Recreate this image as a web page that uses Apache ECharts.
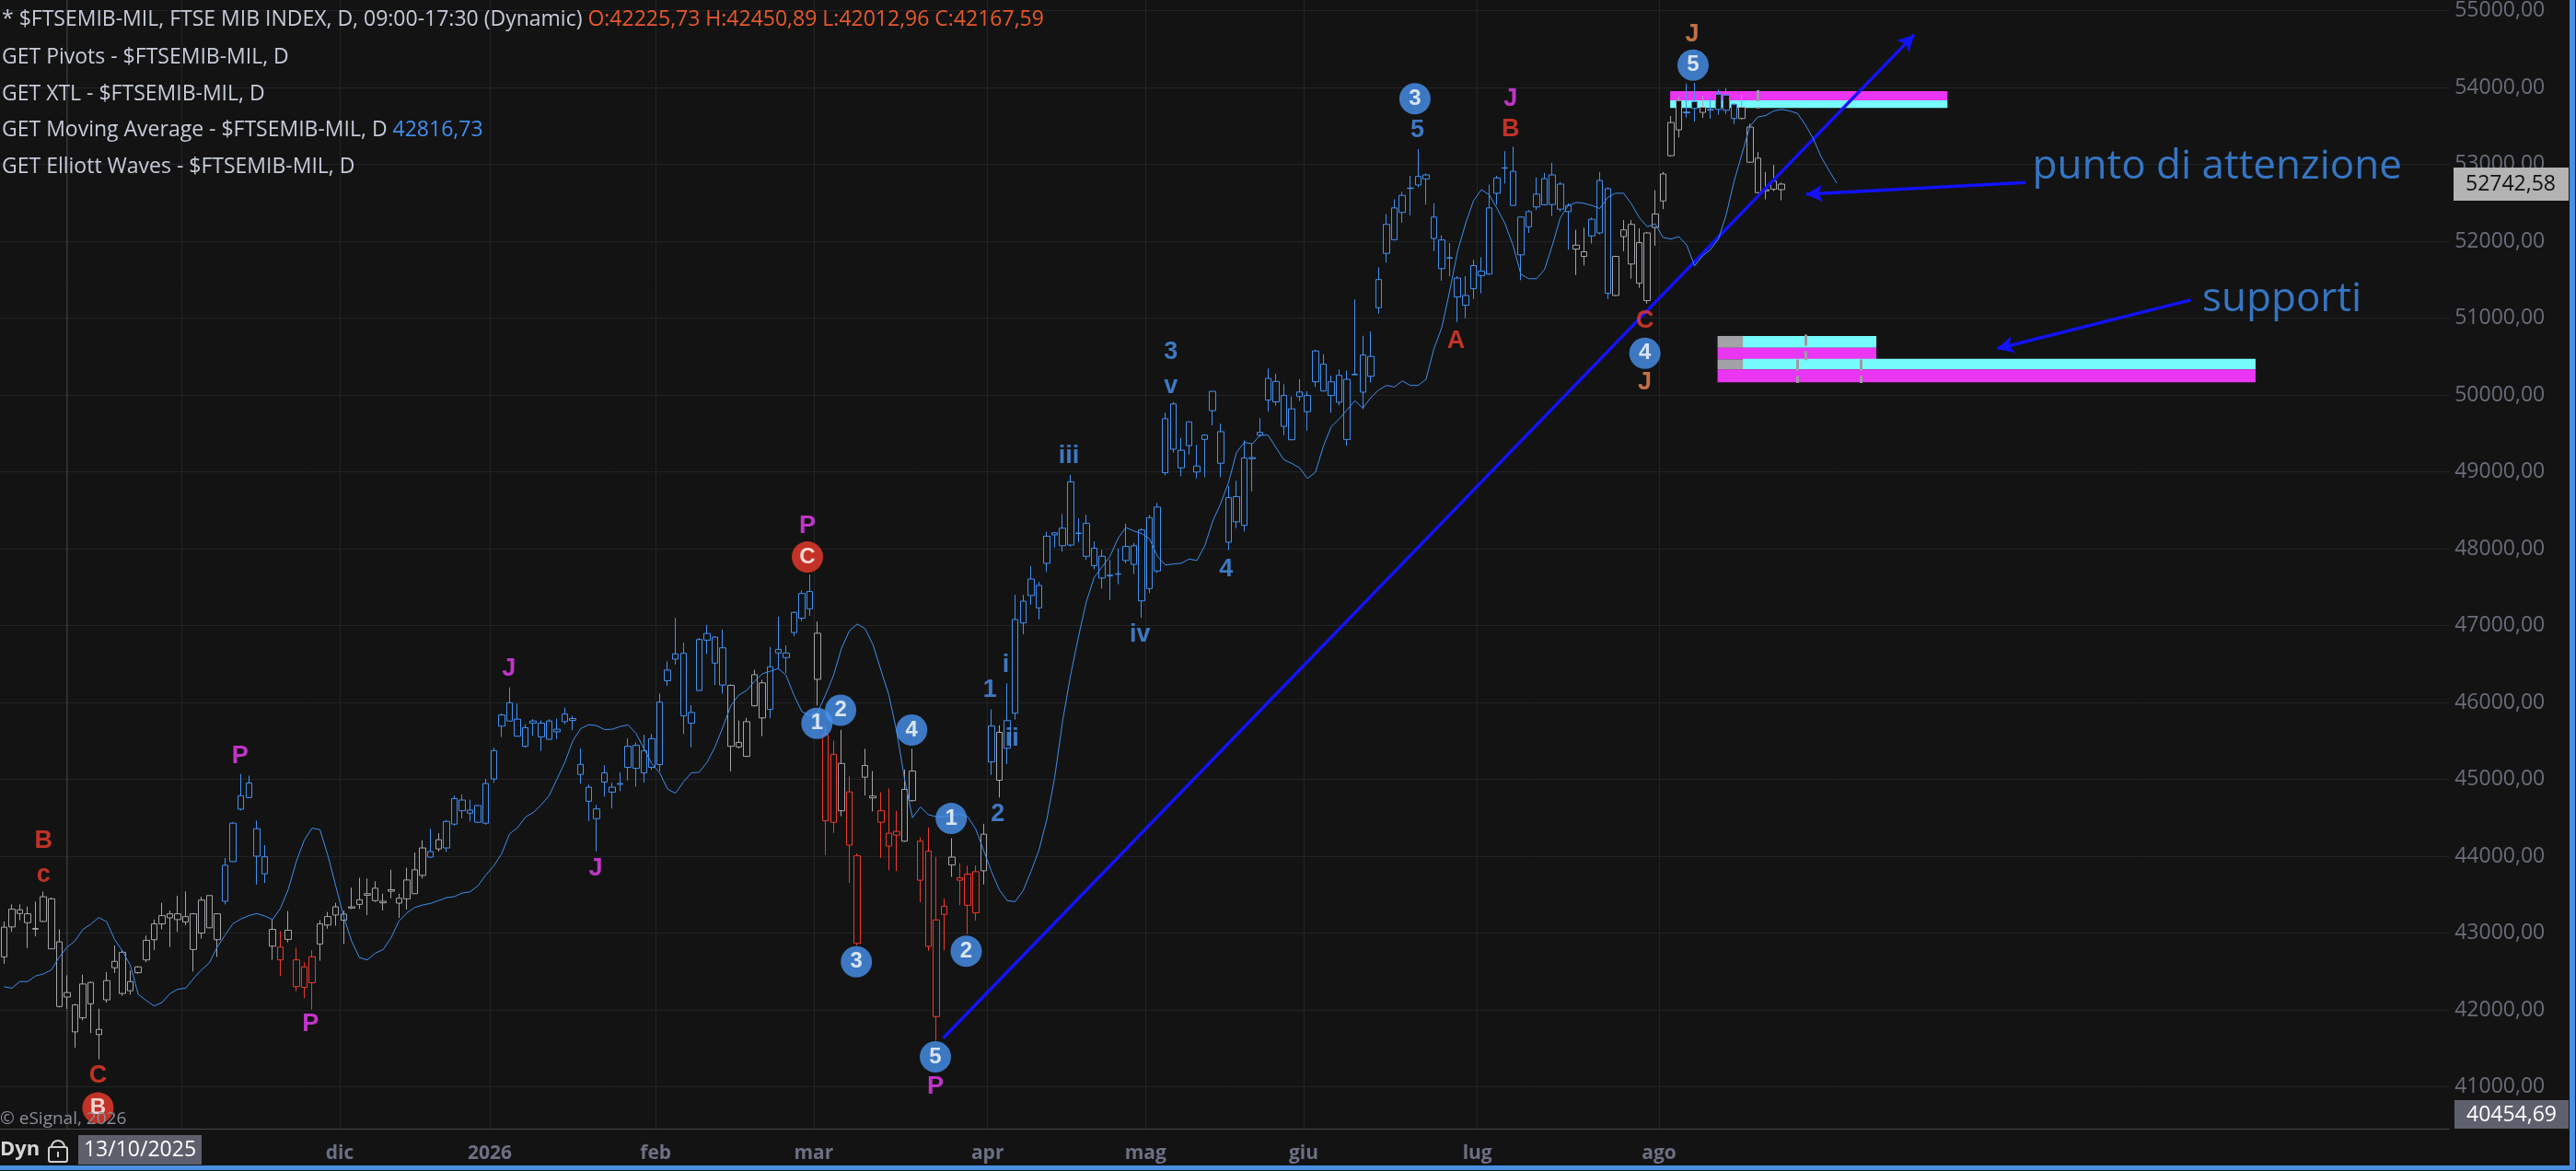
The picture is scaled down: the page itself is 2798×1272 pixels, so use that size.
<!DOCTYPE html>
<html><head><meta charset="utf-8">
<script src="https://cdn.jsdelivr.net/npm/echarts@6/dist/echarts.min.js"></script>
<style>html,body{margin:0;padding:0;background:#131313;overflow:hidden}#c{width:2798px;height:1272px}</style>
</head><body><div id="c"></div>
<script>
// ---------- DATA ----------
// daily candles, [open, high, low, close], from 1 Oct 2025
const candles = [
[42690,43150,42600,43076],[43310,43373,43016,43080],[43302,43373,43167,43254],[43250,43345,42806,43135],[43060,43409,42956,43050],
[43151,43540,43143,43472],[43445,43460,42794,42794],[42885,43048,42032,42044],[42225.73,42450.89,42012.96,42167.59],[41714,42080,41508,42064],
[42337,42457,41865,41897],[42080,42369,41699,42357],[41679,42016,41357,41746],[42131,42492,42095,42381],[42548,42837,42480,42631],
[42750,42778,42183,42214],[42250,42512,42199,42369],[42560,42570,42470,42484],[42651,42968,42619,42905],[42913,43175,42778,43119],
[43119,43393,43048,43226],[43250,43294,42818,43198],[43250,43484,43016,43175],[43143,43540,43103,43214],[42786,43260,42500,43250],
[43000,43472,42929,43429],[43488,43490,43064,43068],[43250,43255,42691,42913],[43413,43976,43373,43881],[43929,44444,43925,44429],
[44611,45071,44595,44786],[44952,45048,44760,44762],[44357,44464,43631,44000],[43992,44143,43651,43770],[43048,43175,42651,42829],
[42817,43024,42441,42651],[43036,43286,42877,42917],[42302,42810,42242,42651],[42560,42619,42151,42294],[42353,42778,42004,42691],
[42857,43167,42639,43119],[43103,43274,43056,43214],[43234,43393,43095,43341],[43167,43294,42857,43246],[43341,43591,43313,43325],
[43433,43718,43313,43373],[43512,43710,43234,43492],[43583,43671,43405,43421],[43413,43512,43294,43393],[43564,43822,43452,43544],
[43389,43512,43195,43452],[43445,43849,43306,43690],[43822,44048,43510,43512],[43750,44206,43710,44107],[44060,44357,43976,43988],
[44214,44298,44060,44095],[44107,44472,44056,44452],[44417,44790,44397,44750],[44730,44802,44492,44591],[44560,44734,44449,44599],
[44659,44665,44430,44441],[44429,45004,44409,44945],[45004,45409,44953,45373],[45691,45857,45548,45837],[45996,46195,45755,45758],
[45782,45984,45556,45560],[45429,45718,45413,45671],[45758,45782,45568,45730],[45552,45766,45369,45730],[45758,45782,45516,45520],
[45619,45790,45520,45651],[45750,45933,45718,45849],[45766,45825,45639,45790],[45063,45401,44945,45194],[44897,44933,44457,44714],
[44615,44667,44060,44488],[44964,45183,44774,45083],[44897,44956,44619,44833],[44945,45091,44845,44935],[45155,45532,44984,45429],
[45441,45480,44905,45143],[45373,45580,44956,45083],[45155,45591,45123,45528],[45191,46115,45103,46004],[46282,46532,46214,46421],
[46563,47099,46492,46631],[46639,46778,45587,45825],[45730,45964,45413,45869],[46155,46837,46147,46818],[46897,47008,46631,46810],
[46849,46861,46226,46512],[46710,46948,46115,46226],[46222,46234,45103,45429],[45480,45766,45401,45421],[45298,45798,45290,45750],
[45956,46425,45948,46361],[46254,46294,45560,45798],[45909,46722,45798,46464],[46643,47115,46433,46690],[46583,46742,46381,46643],
[46909,47180,46861,47171],[47095,47456,47060,47417],[47444,47663,47127,47218],[46900,47050,45960,46300],[45583,45700,44016,44460],
[44440,45504,44302,45325],[45206,45643,44520,44591],[44837,45040,43651,44143],[42865,44036,42837,44004],[45028,45397,44790,45179],
[44782,45107,44583,44758],[44591,44829,43976,44441],[44131,44881,43818,44298],[44274,44591,43806,44322],[44195,45127,44187,44869],
[45107,45397,44710,44722],[44195,44246,43401,43687],[44064,44373,42766,42826],[41913,43988,41596,43171],[43242,43448,42774,43349],
[43885,44234,43730,43988],[43718,43909,43361,43687],[43766,43877,42984,43361],[43262,43877,43163,43798],[43810,44421,43631,44286],
[45226,45909,45056,45694],[44988,45702,44762,45611],[45764,46248,45198,45404],[45860,47399,45778,47079],[47034,47399,46888,47317],
[47390,47774,47271,47605],[47230,47568,47079,47522],[47810,48221,47696,48162],[48180,48215,48016,48206],[48267,48449,47961,48038],
[48047,48961,48025,48869],[48203,48394,48084,48198],[48331,48440,47856,47901],[48006,48093,47732,47778],[47618,47983,47481,47901],
[47645,47856,47331,47655],[47673,48002,47536,47668],[47847,48326,47810,48029],[48038,48075,47673,47796],[47321,48267,47102,48244],
[48404,48440,47422,47481],[47710,48595,47682,48541],[48988,49773,48952,49691],[49883,49910,49248,49294],[49052,49440,48942,49280],
[49340,49655,49225,49650],[49075,49349,48915,48997],[49422,49490,48929,49477],[49796,50050,49604,50047],[49522,49627,48929,49111],
[48084,48815,47983,48664],[48677,48883,48267,48349],[48303,49408,48221,49180],[49170,49372,48746,49185],[49477,49696,49454,49513],
[49933,50344,49782,50216],[50175,50276,49865,49910],[49993,50139,49477,49591],[49417,49979,49408,49819],[49979,50207,49920,50038],
[49993,50047,49536,49782],[50171,50588,50104,50572],[50401,50528,50044,50052],[49993,50251,49767,50171],[50255,50330,49866,49905],
[49421,50314,49342,50203],[50270,51243,50260,50262],[50520,50770,49814,50036],[50243,50826,50163,50501],[51135,51659,51056,51501],
[52219,52354,51723,51842],[52020,52544,52008,52433],[52374,52643,52239,52596],[52687,52850,52334,52692],[52731,53199,52703,52842],
[52862,52881,52477,52810],[52314,52493,51870,52036],[52016,52076,51485,51643],[51785,51977,51544,51780],[51520,51544,50949,51274],
[51294,51544,50997,51167],[51382,51758,51247,51683],[51552,51790,51322,51612],[51572,52735,51564,52433],[52623,52850,52473,52822],
[52950,53171,52750,52955],[52909,53231,52457,52465],[52314,52320,51493,51822],[52187,52405,52108,52385],[52445,52830,52405,52612],
[52473,52889,52465,52814],[52477,53020,52326,52862],[52743,52770,52385,52417],[52465,52493,51889,52385],[51949,52147,51560,51897],
[51802,52175,51683,51862],[52068,52306,51969,52286],[52108,52901,52088,52790],[52683,52703,51247,51322],[51294,51810,51286,51802],
[52147,52274,51870,52060],[52219,52274,51513,51703],[51981,52167,51394,51453],[51227,52120,51187,52108],[52354,52663,51941,52179],
[52524,52901,52417,52874],[53112,53628,53100,53544],[53830,53885,53350,53449],[53680,54052,53608,53670],[53814,54060,53556,53727],
[53743,53893,53604,53675],[53712,53862,53592,53707],[53913,53973,53643,53715],[53901,53993,53655,53703],[53782,53790,53524,53596],
[53743,53901,53584,53596],[53485,53528,53020,53028],[53080,53159,52623,52631],[52671,52901,52544,52655],[52782,52993,52651,52675],
[52671,52762,52532,52742.58]
];
// trend state of each candle (g = neutral, b = up trend, r = down trend), as runs
const trendRuns = [['g',28],['b',6],['g',1],['r',1],['g',1],['r',3],['g',14],['b',1],['g',1],['b',36],['g',5],['b',6],['g',1],['r',2],['g',1],['r',2],['g',2],['r',3],['g',2],['r',4],['g',1],['r',3],['g',1],['b',1],['g',1],['b',72],['g',2],['b',3],['g',9],['b',2],['g',1],['b',4],['g',6]];
// displaced moving average (extends 7 bars past the last candle)
const movingAverage = [
42302,42282,42369,42369,42441,42468,42520,42687,42816.73,42897,43048,43115,43202,43147,42917,42766,42579,42203,42123,42052,
42095,42210,42270,42282,42409,42520,42611,42818,42976,43123,43183,43226,43254,43222,43175,43322,43571,43929,44206,44365,
44345,44008,43611,43214,42897,42679,42651,42738,42786,42937,43155,43262,43333,43365,43385,43421,43460,43472,43520,43536,
43615,43754,43873,44032,44290,44369,44508,44568,44667,44786,45004,45222,45500,45659,45710,45699,45647,45651,45687,45707,
45599,45401,45203,45084,44873,44818,44964,45084,45091,45222,45421,45679,45956,46095,46155,46274,46373,46405,46441,46353,
46095,45880,45830,45870,46100,46350,46700,46930,47020,46960,46750,46420,46100,45620,45000,44500,44640,44540,44512,44512,
44532,44552,44512,44353,44076,43798,43560,43421,43409,43550,43800,44075,44477,45025,45755,46349,46851,47308,47627,47764,
47901,48130,48276,48230,48198,48130,47901,47787,47801,47810,47865,47847,48038,48358,48586,48860,49248,49385,49362,49477,
49477,49317,49157,49110,49050,48914,48993,49330,49588,49687,49806,49925,49826,49965,50064,50124,50104,50183,50124,50124,
50203,50600,50878,51354,51870,52227,52524,52671,52604,52425,52227,51949,51572,51512,51512,51631,51949,52306,52465,52505,
52493,52465,52425,52570,52624,52624,52485,52306,52187,52227,52048,52028,52060,51949,51679,51810,51890,52028,52346,52782,
53139,53497,53616,53635,53695,53715,53695,53663,53516,53338,53100,52921,52755
];
// Elliott wave / pivot labels: [text, bar position, price, kind]
// kind: r red text, m magenta text, b blue text, o orange text, R red disc, B blue disc
const waveLabels = [
['B',5,44193,'r'],['c',5,43757,'r'],['C',11.9,41142,'r'],['B',11.9,40726,'R'],
['P',29.9,45304,'m'],['P',38.8,41812,'m'],['J',63.9,46435,'m'],['J',74.9,43836,'m'],
['P',101.7,48296,'m'],['C',101.7,47891,'R'],
['1',102.9,45728,'B'],['2',105.9,45899,'B'],['3',107.9,42626,'B'],['4',114.9,45641,'B'],
['5',117.9,41389,'B'],['P',117.9,41000,'m'],['1',119.9,44490,'B'],['2',121.8,42764,'B'],
['1',124.8,46167,'b'],['2',125.8,44550,'b'],['i',126.8,46486,'b'],['ii',127.6,45528,'b'],
['iii',134.8,49204,'b'],['iv',143.8,46876,'b'],['3',147.7,50551,'b'],['v',147.7,50116,'b'],['4',154.7,47729,'b'],
['3',178.6,53854,'B'],['5',178.9,53437,'b'],['A',183.8,50700,'r'],['J',190.7,53854,'m'],['B',190.7,53457,'r'],
['C',207.7,50958,'r'],['4',207.7,50541,'B'],['J',207.7,50164,'o'],['5',213.8,54290,'B'],['J',213.7,54683,'o']
];
// pivot / XTL zones: [from bar, to bar, top price, bottom price, kind]
const zones = [
[210.9,246.0,53952,53833,'m'],[210.9,246.0,53833,53735,'c'],
[220.1,237.0,50767,50613,'c'],[216.9,220.1,50767,50613,'g'],[216.9,237.0,50613,50462,'m'],
[220.1,285.0,50470,50331,'c'],[216.9,220.1,50462,50331,'g'],[216.9,285.0,50331,50164,'m']
];
// short vertical markers inside the zones: [bar, top price, bottom price]
const zoneMarkers = [[222.0,53964,53726],[228.0,50783,50453],[227.0,50462,50156],[235.0,50462,50156]];
// drawn lines: trend line and the two pointer arrows, [[bar, price],[bar, price]] (arrow at 2nd end)
const trendLine = [[118.9,41634],[241.8,54687]];
const pointerArrows = [[[255.9,52763],[228.1,52612]],[[276.8,51235],[252.3,50601]]];
const notes = [['punto di attenzione',256.7,52961],['supporti',278.2,51235]];
const crosshairBar = 8;
const axisMinPrice = 40454.69;
const holidays = ['2025-12-24','2025-12-25','2025-12-26','2025-12-31','2026-01-01','2026-04-03','2026-04-06','2026-05-01','2026-08-14'];
const monthNames = ['gen','feb','mar','apr','mag','giu','lug','ago','set','ott','nov','dic'];
const firstDay = '2025-10-01';
const totalSlots = 310;

// ---------- BUILD ----------
const BG = '#131313';
const trendColor = {g:'#a6a6ab', b:'#4191f4', r:'#f0382c'};
const waveColor = {r:'#ef3b2d', m:'#ec3ef6', b:'#4892f0', o:'#ef8a52', R:'#ef3b2d', B:'#4892f0'};
const zoneColor = {m:'#ea36f2', c:'#76fbfd', g:'#a3a3a7'};
const fmt = v => v.toFixed(2).replace('.', ',');

const trend = [];
trendRuns.forEach(([k,n]) => { for (let j = 0; j < n; j++) trend.push(k); });

// trading-day categories
const dates = [];
{
  const d = new Date(firstDay + 'T12:00:00Z');
  while (dates.length < candles.length) {
    const iso = d.toISOString().slice(0,10);
    const wd = d.getUTCDay();
    if (wd !== 0 && wd !== 6 && holidays.indexOf(iso) < 0) dates.push(iso);
    d.setUTCDate(d.getUTCDate() + 1);
  }
}
const cats = dates.slice();
while (cats.length < totalSlots) cats.push('f' + cats.length);
const axisCats = cats.concat(['f' + totalSlots]);
const monthStart = {};
for (let i = 1; i < dates.length; i++) {
  if (dates[i].slice(5,7) !== dates[i-1].slice(5,7)) {
    const m = +dates[i].slice(5,7) - 1;
    monthStart[i] = m === 0 ? dates[i].slice(0,4) : monthNames[m];
  }
}

const candleData = candles.map((c, i) => {
  const col = trendColor[trend[i]];
  return {value:[c[0], c[3], c[2], c[1]],
    itemStyle:{color:BG, color0:col, borderColor:col, borderColor0:col, borderColorDoji:col}};
});

const waveData = waveLabels.map(([t, x, v, k]) => {
  const disc = (k === 'R' || k === 'B');
  return {value:[x, v], symbol:'circle', symbolSize: disc ? 34 : 1,
    itemStyle:{color: disc ? waveColor[k] : 'rgba(0,0,0,0)'},
    label:{show:true, position:'inside', formatter:t, color: disc ? '#ffffff' : waveColor[k],
      fontSize: disc ? 24 : 27, fontWeight:'bold', fontFamily:'Liberation Sans, Arial, sans-serif'}};
});

const noteData = notes.map(([t, x, v]) => ({value:[x, v], symbol:'circle', symbolSize:1,
  itemStyle:{color:'rgba(0,0,0,0)'},
  label:{show:true, position:'right', distance:0, formatter:t, color:'#3f8ef0', fontSize:44, fontFamily:'Open Sans, sans-serif'}}));

const areaData = zones.map(([x1, x2, top, bot, k]) => [
  {coord:[x1, top], itemStyle:{color:zoneColor[k], opacity:1}}, {coord:[x2, bot]}]);
const markerLines = zoneMarkers.map(([x, top, bot]) => [
  {coord:[x, top], symbol:'none', lineStyle:{color:'#9d9da2', width:3}}, {coord:[x, bot], symbol:'none'}]);
const arrowLines = [trendLine].concat(pointerArrows).map(([a, b]) => [
  {coord:a, symbol:'none'}, {coord:b, symbol:'arrow', symbolSize:[14,18]}]);

const GRID_LEFT = -5.8, BAND = 8.6, PLOT_W = totalSlots * BAND;
const AXIS_Y = 1226;
const textFont = 'Open Sans, sans-serif';

const chart = echarts.init(document.getElementById('c'), null, {renderer:'canvas', width:2798, height:1272});
chart.setOption({
  animation:false,
  backgroundColor:BG,
  grid:[
    {left:GRID_LEFT, top:0, width:PLOT_W, height:AXIS_Y},
    {left:GRID_LEFT, top:0, width:PLOT_W, height:1264}
  ],
  xAxis:[
    {gridIndex:0, type:'category', data:axisCats, boundaryGap:false,
      axisLine:{show:true, lineStyle:{color:'#45464b', width:1}}, axisTick:{show:false},
      axisLabel:{interval:(i) => monthStart[i] !== undefined, formatter:(v, i) => monthStart[i] || '',
        color:'#6b7084', fontSize:21, fontWeight:'bold', fontFamily:textFont, margin:17},
      splitLine:{show:true, interval:(i) => monthStart[i] !== undefined, lineStyle:{color:'#222326', width:1}}},
    {gridIndex:1, type:'category', data:cats, boundaryGap:true, show:false},
    {gridIndex:1, type:'value', min:-0.5, max:totalSlots - 0.5, show:false}
  ],
  yAxis:[
    {gridIndex:0, type:'value', min:40000, max:55044, show:false, splitLine:{show:false}},
    {gridIndex:1, type:'value', position:'right', min:40000, max:55044, interval:1000,
      axisLine:{show:false}, axisTick:{show:false},
      axisLabel:{showMinLabel:false, formatter:(v) => (v % 1000 === 0 ? v + ',00' : ''),
        color:'#696d7b', fontSize:23, fontFamily:textFont, margin:6},
      splitLine:{show:true, showMinLine:false, showMaxLine:false, lineStyle:{color:'#222326', width:1}}}
  ],
  series:[
    {name:'zones', type:'line', xAxisIndex:2, yAxisIndex:1, data:[], symbol:'none', z:3,
      markArea:{silent:true, data:areaData},
      markLine:{silent:true, label:{show:false}, data:markerLines}},
    {name:'candles', type:'candlestick', xAxisIndex:1, yAxisIndex:1, data:candleData, barWidth:7, z:4,
      itemStyle:{borderWidth:1}},
    {name:'ma', type:'line', xAxisIndex:1, yAxisIndex:1, data:movingAverage, symbol:'none', z:5,
      lineStyle:{color:'#3f8ef0', width:1}},
    {name:'lines', type:'line', xAxisIndex:2, yAxisIndex:1, data:[], symbol:'none', z:6,
      markLine:{silent:true, label:{show:false}, lineStyle:{color:'#1212ff', width:3.5, type:'solid'}, data:arrowLines}},
    {name:'waves', type:'scatter', xAxisIndex:2, yAxisIndex:1, data:waveData, z:7},
    {name:'notes', type:'scatter', xAxisIndex:2, yAxisIndex:1, data:noteData, z:7}
  ]
});

// chrome drawn from the axes
const last = candles[candles.length - 1][3];
const yLast = chart.convertToPixel({yAxisIndex:1}, last);
const yMin = chart.convertToPixel({yAxisIndex:1}, axisMinPrice);
const xCross = chart.convertToPixel({xAxisIndex:1}, crosshairBar);
const c8 = candles[crosshairBar];
const legendColor = '#c6cbd9';
const LF = 23;
chart.setOption({graphic:[
  {type:'line', z:1, shape:{x1:xCross, y1:0, x2:xCross, y2:AXIS_Y}, style:{stroke:'#4a4c54', lineWidth:1}},
  {type:'text', z:50, x:2, y:21, style:{text:'{a|* $FTSEMIB-MIL, FTSE MIB INDEX, D, 09:00-17:30 (Dynamic) }{o|O:' + fmt(c8[0]) + ' H:' + fmt(c8[1]) + ' L:' + fmt(c8[2]) + ' C:' + fmt(c8[3]) + '}',
    verticalAlign:'middle', textVerticalAlign:'middle',
    rich:{a:{fill:legendColor, fontSize:LF, fontFamily:textFont}, o:{fill:'#e8582c', fontSize:LF, fontFamily:textFont}}}},
  {type:'text', z:50, x:2, y:62, style:{text:'GET Pivots - $FTSEMIB-MIL, D', fill:legendColor, fontSize:LF, fontFamily:textFont, verticalAlign:'middle', textVerticalAlign:'middle'}},
  {type:'text', z:50, x:2, y:102, style:{text:'GET XTL - $FTSEMIB-MIL, D', fill:legendColor, fontSize:LF, fontFamily:textFont, verticalAlign:'middle', textVerticalAlign:'middle'}},
  {type:'text', z:50, x:2, y:141, style:{text:'{a|GET Moving Average - $FTSEMIB-MIL, D }{v|' + fmt(movingAverage[crosshairBar]) + '}',
    verticalAlign:'middle', textVerticalAlign:'middle',
    rich:{a:{fill:legendColor, fontSize:LF, fontFamily:textFont}, v:{fill:'#3f8ef0', fontSize:LF, fontFamily:textFont}}}},
  {type:'text', z:50, x:2, y:181, style:{text:'GET Elliott Waves - $FTSEMIB-MIL, D', fill:legendColor, fontSize:LF, fontFamily:textFont, verticalAlign:'middle', textVerticalAlign:'middle'}},
  {type:'text', z:50, x:0, y:1216, style:{text:'\u00a9 eSignal, 2026', fill:'#8a8e99', fontSize:19, fontFamily:textFont, verticalAlign:'middle', textVerticalAlign:'middle'}},
  // last price box
  {type:'rect', z:50, shape:{x:2665, y:yLast - 18, width:125, height:36}, style:{fill:'#b3b3b3'}},
  {type:'text', z:51, x:2727, y:yLast, style:{text:fmt(last), fill:'#101010', fontSize:23, fontFamily:textFont, align:'center', verticalAlign:'middle', textAlign:'center', textVerticalAlign:'middle'}},
  // crosshair price box
  {type:'rect', z:50, shape:{x:2666, y:yMin - 31, width:124, height:31}, style:{fill:'#5e616d'}},
  {type:'text', z:51, x:2728, y:yMin - 15, style:{text:fmt(axisMinPrice), fill:'#ffffff', fontSize:23, fontFamily:textFont, align:'center', verticalAlign:'middle', textAlign:'center', textVerticalAlign:'middle'}},
  // time axis crosshair date
  {type:'rect', z:50, shape:{x:85, y:1233, width:134, height:32}, style:{fill:'#5d606c'}},
  {type:'text', z:51, x:152, y:1249, style:{text:dates[crosshairBar].split('-').reverse().join('/'), fill:'#ffffff', fontSize:23, fontFamily:textFont, align:'center', verticalAlign:'middle', textAlign:'center', textVerticalAlign:'middle'}},
  {type:'text', z:51, x:0, y:1249, style:{text:'Dyn', fill:'#d6d6d6', fontSize:22, fontWeight:'bold', fontFamily:textFont, verticalAlign:'middle', textVerticalAlign:'middle'}},
  {type:'rect', z:51, shape:{x:53, y:1246, width:20, height:16, r:2}, style:{fill:'none', stroke:'#cfcfcf', lineWidth:2}},
  {type:'arc', z:51, shape:{cx:63, cy:1246, r:7, startAngle:Math.PI, endAngle:2 * Math.PI}, style:{fill:'none', stroke:'#cfcfcf', lineWidth:2}},
  {type:'rect', z:51, shape:{x:62, y:1251, width:2, height:6}, style:{fill:'#cfcfcf'}},
  // window frame
  {type:'rect', z:60, shape:{x:2791, y:0, width:6, height:1271}, style:{fill:'#4a90e2'}},
  {type:'rect', z:60, shape:{x:0, y:1266, width:2797, height:5}, style:{fill:'#4a90e2'}}
]});
</script></body></html>
